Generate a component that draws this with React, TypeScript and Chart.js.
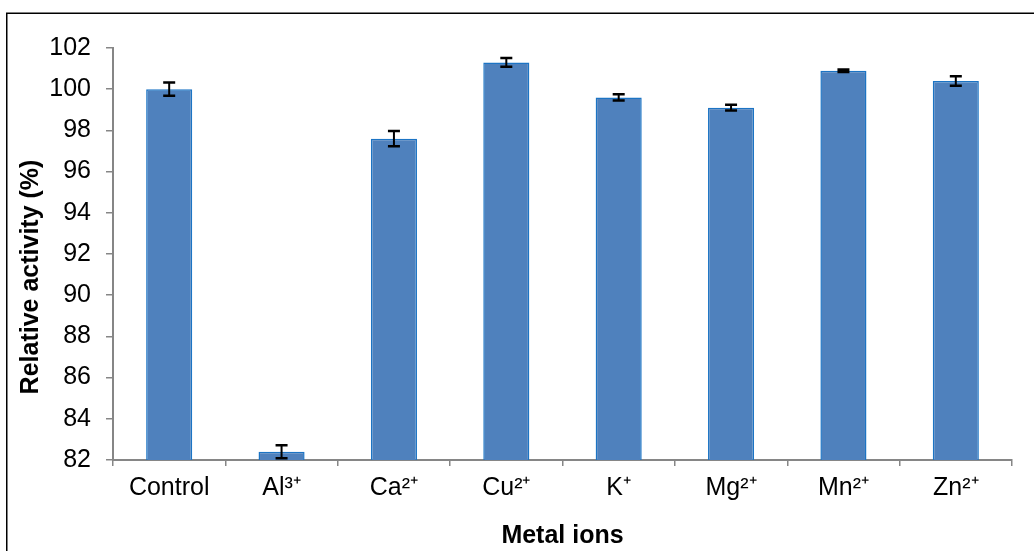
import React, { useEffect, useRef } from "react";
import { Chart, registerables } from "chart.js";

Chart.register(...registerables);

const categories = ["Control", "Al³⁺", "Ca²⁺", "Cu²⁺", "K⁺", "Mg²⁺", "Mn²⁺", "Zn²⁺"];
const activity = [100.0, 82.4, 97.6, 101.3, 99.6, 99.1, 100.9, 100.4];
const errors = [0.32, 0.32, 0.37, 0.21, 0.15, 0.14, 0.06, 0.23];
const yMin = 82;
const yMax = 102;
const yStep = 2;
const xTitle = "Metal ions";
const yTitle = "Relative activity (%)";

const FONT = "'Liberation Sans', Arial, sans-serif";

const errorBarPlugin = {
  id: "errorBars",
  afterDatasetsDraw(chart: any) {
    const ctx = chart.ctx;
    const meta = chart.getDatasetMeta(0);
    const yScale = chart.scales.y;
    ctx.save();
    ctx.strokeStyle = "#000000";
    meta.data.forEach((bar: any, i: number) => {
      const v = activity[i];
      const e = errors[i];
      const x = bar.x;
      const yt = yScale.getPixelForValue(v + e);
      const yb = yScale.getPixelForValue(v - e);
      ctx.lineWidth = 2;
      ctx.beginPath();
      ctx.moveTo(x, yt);
      ctx.lineTo(x, yb);
      ctx.stroke();
      ctx.lineWidth = 2.5;
      ctx.beginPath();
      ctx.moveTo(x - 6, yt);
      ctx.lineTo(x + 6, yt);
      ctx.moveTo(x - 6, yb);
      ctx.lineTo(x + 6, yb);
      ctx.stroke();
    });
    ctx.restore();
  },
};

const decorPlugin = {
  id: "decor",
  afterDraw(chart: any) {
    const ctx = chart.ctx;
    ctx.save();
    // outer frame
    ctx.strokeStyle = "#000000";
    ctx.lineWidth = 1.5;
    ctx.strokeRect(6.75, 13.25, 1100, 700);
    // y axis title
    ctx.translate(31, 277);
    ctx.rotate(-Math.PI / 2);
    ctx.fillStyle = "#000000";
    ctx.font = `bold 25px ${FONT}`;
    ctx.textAlign = "center";
    ctx.textBaseline = "middle";
    ctx.fillText(yTitle, 0, 0);
    ctx.restore();
  },
};

export default function App() {
  const canvasRef = useRef<HTMLCanvasElement | null>(null);

  useEffect(() => {
    if (!canvasRef.current) return;
    const chart = new Chart(canvasRef.current, {
      type: "bar",
      data: {
        labels: categories,
        datasets: [
          {
            data: activity,
            backgroundColor: "#4F81BD",
            borderColor: "#1C74C4",
            borderWidth: 1.5,
            categoryPercentage: 1,
            barPercentage: 0.41,
          },
        ],
      },
      options: {
        animation: false,
        responsive: true,
        maintainAspectRatio: false,
        layout: { padding: { left: 0, right: 22, top: 48, bottom: 0 } },
        plugins: {
          legend: { display: false },
          tooltip: { enabled: false },
        },
        scales: {
          x: {
            grid: {
              drawOnChartArea: false,
              drawTicks: true,
              tickLength: 6,
              color: "#868686",
              lineWidth: 1.5,
            },
            border: { color: "#868686", width: 2 },
            ticks: {
              color: "#000000",
              font: { family: FONT, size: 25 },
              padding: 7,
              maxRotation: 0,
            },
            title: {
              display: true,
              text: xTitle,
              color: "#000000",
              font: { family: FONT, size: 25, weight: "bold" },
              padding: { top: 0, bottom: 0 },
            },
            afterFit: (scale: any) => {
              scale.height = 91;
            },
          },
          y: {
            min: yMin,
            max: yMax,
            grid: {
              drawOnChartArea: false,
              drawTicks: true,
              tickLength: 7,
              color: "#868686",
              lineWidth: 1.5,
            },
            border: { color: "#868686", width: 2 },
            ticks: {
              stepSize: yStep,
              color: "#000000",
              font: { family: FONT, size: 25 },
              padding: 15,
            },
            title: { display: false },
            afterFit: (scale: any) => {
              scale.width = 113;
            },
          },
        },
      },
      plugins: [errorBarPlugin, decorPlugin],
    });
    return () => chart.destroy();
  }, []);

  return (
    <div style={{ position: "fixed", left: 0, top: 0, width: "1034px", height: "551px", background: "#ffffff" }}>
      <canvas ref={canvasRef} />
    </div>
  );
}
